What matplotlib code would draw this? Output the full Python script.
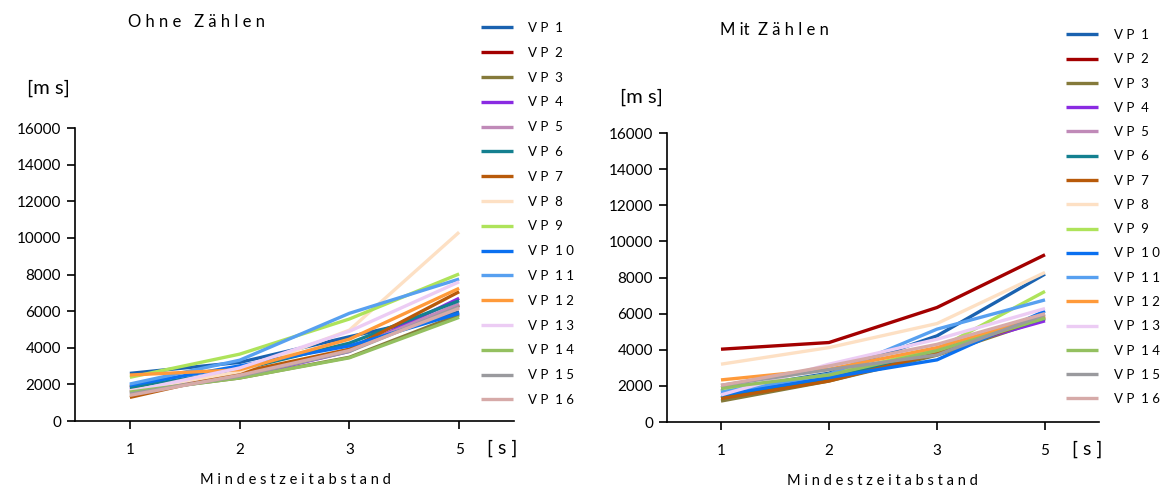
import matplotlib
matplotlib.use("Agg")
import matplotlib.pyplot as plt

plt.rcParams['font.family'] = ['Lato', 'DejaVu Sans']

# Mindestzeitabstand [s] (categorical axis)
intervals = ["1", "2", "3", "5"]
subjects = [f"V P  {' '.join(str(i))}" for i in range(1, 17)]

colors = ['#1a62b0', '#a30000', '#857a3a', '#8a2be2', '#c08ab8', '#148090',
          '#b85a0a', '#fde0c4', '#aee35a', '#0a70f0', '#57a0f0', '#ff9a3a',
          '#ecccf4', '#94c060', '#9a9a9e', '#d6aaa8']

# reaction times [ms] without counting
ohne = [
    [2600, 3200, 4600, 5950],
    [1870, 2600, 3850, 6330],
    [1600, 2350, 3480, 5800],
    [1730, 2400, 3800, 6700],
    [1545, 2450, 3900, 6400],
    [1820, 2800, 4250, 6570],
    [1290, 2650, 3920, 7060],
    [1650, 2700, 4960, 10310],
    [2385, 3650, 5570, 8030],
    [1950, 3010, 4100, 5880],
    [2020, 3320, 5880, 7750],
    [2510, 2800, 4470, 7245],
    [1600, 2900, 4900, 7600],
    [1580, 2350, 3450, 5660],
    [1475, 2450, 3800, 6240],
    [1400, 2500, 3850, 6150],
]

# reaction times [ms] with counting
mit = [
    [1720, 2700, 4770, 8190],
    [4030, 4400, 6340, 9260],
    [1160, 2270, 3700, 5700],
    [1590, 2365, 3940, 5600],
    [1900, 2500, 3800, 5850],
    [1350, 2400, 3900, 5750],
    [1300, 2270, 3800, 5800],
    [3200, 4120, 5450, 8280],
    [1700, 2640, 4030, 7230],
    [1500, 2460, 3440, 6150],
    [1650, 2640, 5140, 6760],
    [2330, 2920, 4120, 5880],
    [1500, 3200, 4580, 6280],
    [1900, 2600, 3950, 5750],
    [2030, 2900, 3710, 5950],
    [2030, 3100, 4300, 6000],
]

W, H = 1170, 490


def px_rect(x0, x1, ytop, ybot):
    return [x0 / W, 1 - ybot / H, (x1 - x0) / W, (ybot - ytop) / H]


def draw_panel(ax, data, title, title_xy, ms_xy, s_xy, xl_xy, leg_xy, leg_sp):
    for vals, c, lab in zip(data, colors, subjects):
        ax.plot(intervals, vals, color=c, lw=2.4, label=lab, solid_capstyle='butt')
    ax.set_xlim(-0.5, 3.5)
    ax.set_ylim(0, 16000)
    ax.set_yticks(range(0, 16001, 2000))
    for s in ['top', 'right']:
        ax.spines[s].set_visible(False)
    for s in ['left', 'bottom']:
        ax.spines[s].set_linewidth(1.2)
    ax.tick_params(axis='y', length=6, width=1.2, pad=4, labelsize=11)
    ax.tick_params(axis='x', length=6, width=1.2, pad=10, labelsize=11)
    fig.text(title_xy[0] / W, 1 - title_xy[1] / H, title, fontsize=12,
             ha='left', va='center')
    fig.text(ms_xy[0] / W, 1 - ms_xy[1] / H, "[m s]", fontsize=14.5,
             ha='left', va='center')
    fig.text(s_xy[0] / W, 1 - s_xy[1] / H, "[ s ]", fontsize=14,
             ha='left', va='center')
    fig.text(xl_xy[0] / W, 1 - xl_xy[1] / H, "M i n d e s t z e i t a b s t a n d",
             fontsize=10.5, ha='center', va='center')
    ax.legend(loc='upper left', bbox_to_anchor=(leg_xy[0] / W, 1 - leg_xy[1] / H),
              bbox_transform=fig.transFigure, frameon=False, fontsize=9.5,
              handlelength=2.4, handletextpad=1.2, labelspacing=leg_sp,
              borderpad=0, borderaxespad=0)


fig = plt.figure(figsize=(W / 100, H / 100), dpi=100)
ax1 = fig.add_axes(px_rect(75, 514, 128, 421))
ax2 = fig.add_axes(px_rect(667, 1099, 133, 422))

draw_panel(ax1, ohne, "O h n e   Z ä h l e n", (128, 22), (27, 88), (487, 448),
           (295, 480), (481, 22), 0.97)
draw_panel(ax2, mit, "M it  Z ä h l e n", (720, 30), (620, 97), (1072, 449),
           (882, 481), (1066, 29), 0.93)

fig.savefig("out.png", dpi=100)
